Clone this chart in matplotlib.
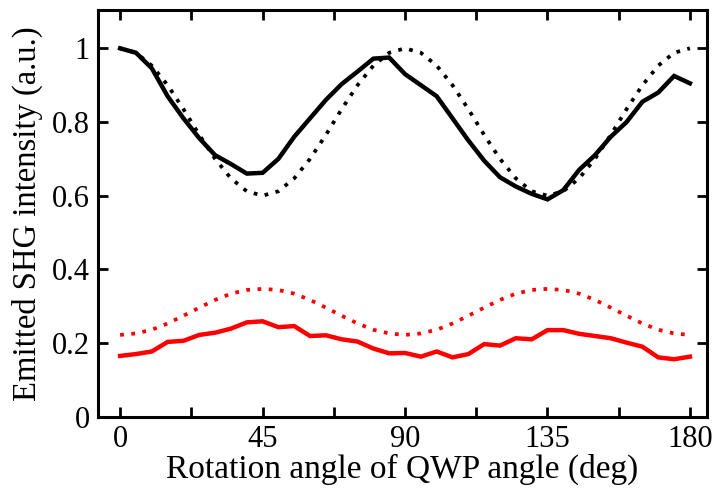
import matplotlib
matplotlib.use("Agg")
import matplotlib.pyplot as plt
from matplotlib.ticker import FixedLocator, FixedFormatter

angles = [0, 5, 10, 15, 20, 25, 30, 35, 40, 45, 50, 55, 60, 65, 70, 75, 80, 85, 90,
          95, 100, 105, 110, 115, 120, 125, 130, 135, 140, 145, 150, 155, 160, 165, 170, 175, 180]

black_measured = [1.0, 0.988, 0.946, 0.87, 0.81, 0.756, 0.71, 0.686, 0.66, 0.662,
                  0.70, 0.76, 0.81, 0.86, 0.903, 0.937, 0.972, 0.975, 0.93,
                  0.90, 0.87, 0.81, 0.75, 0.695, 0.65, 0.625, 0.605, 0.59,
                  0.615, 0.67, 0.71, 0.76, 0.80, 0.855, 0.88, 0.925, 0.905]

black_theory = [1.0, 0.988, 0.953, 0.90, 0.835, 0.765, 0.70, 0.647, 0.612, 0.60,
                0.612, 0.647, 0.70, 0.765, 0.835, 0.90, 0.953, 0.988, 1.0,
                0.988, 0.953, 0.90, 0.835, 0.765, 0.70, 0.647, 0.612, 0.60,
                0.612, 0.647, 0.70, 0.765, 0.835, 0.90, 0.953, 0.988, 1.0]

red_measured = [0.165, 0.17, 0.177, 0.203, 0.206, 0.222, 0.228, 0.239, 0.256, 0.259,
                0.243, 0.246, 0.219, 0.221, 0.21, 0.204, 0.185, 0.172, 0.173,
                0.163, 0.177, 0.161, 0.17, 0.197, 0.193, 0.213, 0.21, 0.235,
                0.235, 0.225, 0.219, 0.213, 0.201, 0.19, 0.161, 0.156, 0.163]

red_theory = [0.222, 0.226, 0.236, 0.253, 0.274, 0.296, 0.317, 0.334, 0.344, 0.347,
              0.344, 0.334, 0.317, 0.296, 0.274, 0.253, 0.236, 0.226, 0.222,
              0.226, 0.236, 0.253, 0.274, 0.296, 0.317, 0.334, 0.344, 0.347,
              0.344, 0.334, 0.317, 0.296, 0.274, 0.253, 0.236, 0.226, 0.222]

x_major = [0, 45, 90, 135, 180]
x_labels = ["0", "45", "90", "135", "180"]
x_minor = [22.5, 67.5, 112.5, 157.5]
y_major = [0, 0.2, 0.4, 0.6, 0.8, 1.0]
y_labels = ["0", "0.2", "0.4", "0.6", "0.8", "1"]

plt.rcParams['font.family'] = ['Liberation Serif', 'DejaVu Serif']

fig = plt.figure(figsize=(7.13, 4.96), dpi=100)
ax = fig.add_axes([0.1374, 0.1599, 0.9916 - 0.1374, 0.9798 - 0.1599])

dot = (0, (1, 2.0))
ax.plot(angles, black_theory, color='black', lw=2.7, linestyle=dot, dash_capstyle='butt')
ax.plot(angles, black_measured, color='black', lw=3.2, solid_joinstyle='miter')
ax.plot(angles, red_theory, color='#ff0000', lw=2.7, linestyle=dot, dash_capstyle='butt')
ax.plot(angles, red_measured, color='#ff0000', lw=3.2, solid_joinstyle='miter')

ax.set_xlim(-7, 185.4)
ax.set_ylim(0, 1.104)

ax.xaxis.set_major_locator(FixedLocator(x_major))
ax.xaxis.set_major_formatter(FixedFormatter(x_labels))
ax.xaxis.set_minor_locator(FixedLocator(x_minor))
ax.yaxis.set_major_locator(FixedLocator(y_major))
ax.yaxis.set_major_formatter(FixedFormatter(y_labels))

ax.tick_params(which='both', direction='in', top=True, right=True,
               length=7, width=2, labelsize=22, pad=6)

for s in ax.spines.values():
    s.set_linewidth(2.2)

ax.set_xlabel("Rotation angle of QWP angle (deg)", fontsize=24, labelpad=0)
ax.set_ylabel("Emitted SHG intensity (a.u.)", fontsize=23.5, labelpad=6)

fig.savefig("out.png", dpi=100)
